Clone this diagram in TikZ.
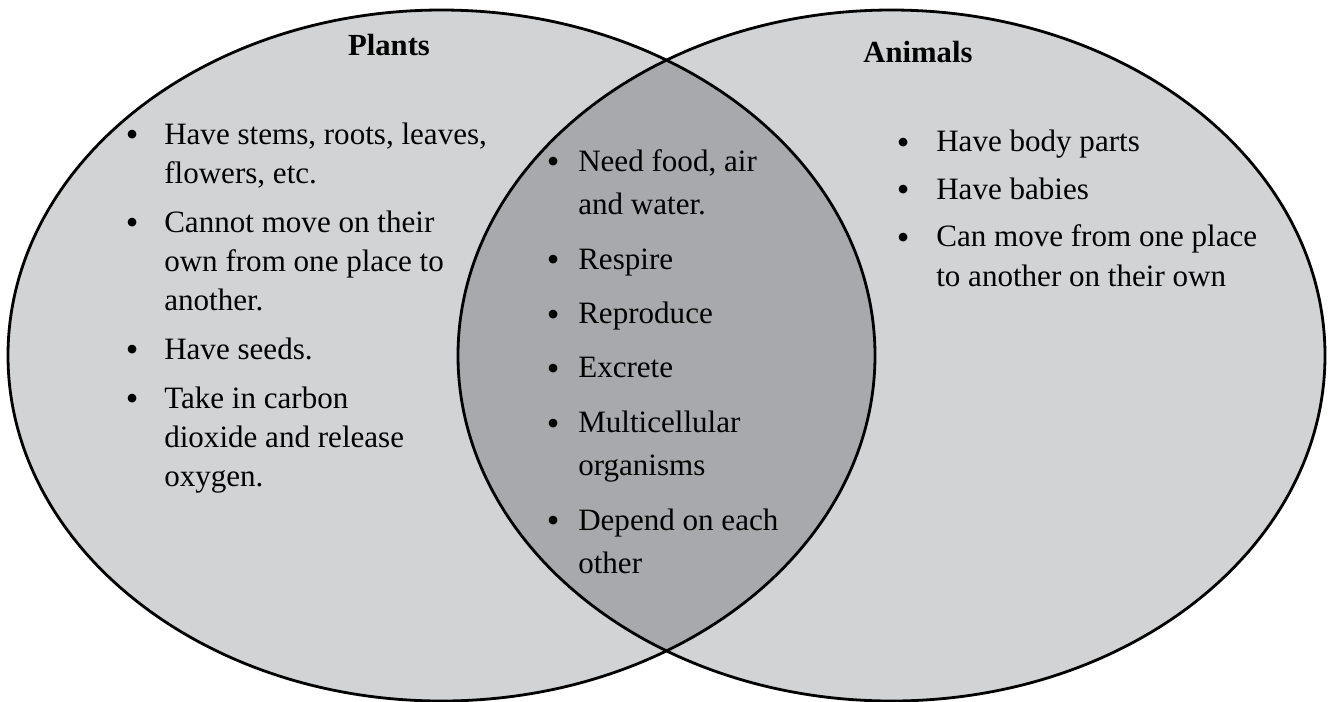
\documentclass[tikz,border=0pt]{standalone}
\usepackage{fontspec}
\setmainfont{Liberation Serif}
\definecolor{lightfill}{HTML}{D1D3D4}
\definecolor{darkfill}{HTML}{A7A9AC}
\newcommand{\bu}[1]{\llap{\makebox[0pt]{\raisebox{-2pt}{\fontsize{27}{27}\selectfont\textbullet}}\hspace{#1}}}
\begin{document}
\begin{tikzpicture}[x=0.75pt,y=-0.75pt,
  listtext/.style={anchor=base west, align=left, inner sep=0pt},
  titletext/.style={anchor=base, inner sep=0pt, font=\fontsize{23}{28}\selectfont\bfseries},
  outline/.style={draw=black, line width=2.1pt}]
\useasboundingbox (0,0) rectangle (1331,701);
\path (441.5,355.5) coordinate (cl) (891.5,355.5) coordinate (cr);
\fill[lightfill] (cl) ellipse [x radius=325.125pt, y radius=259.125pt];
\fill[lightfill] (cr) ellipse [x radius=325.125pt, y radius=259.125pt];
\begin{scope}
  \clip (cl) ellipse [x radius=325.125pt, y radius=259.125pt];
  \fill[darkfill] (cr) ellipse [x radius=325.125pt, y radius=259.125pt];
\end{scope}
\draw[outline] (cl) ellipse [x radius=325.125pt, y radius=259.125pt];
\draw[outline] (cr) ellipse [x radius=325.125pt, y radius=259.125pt];

\node[titletext] (tplants) at (389,55) {Plants};
\node[titletext] (tanimals) at (918,62) {Animals};

% anchor "base" of a multi-line node is the baseline of its last line
\node[listtext, font=\fontsize{23.3}{29.25}\selectfont] (lplants) at (164,486) {%
\bu{24pt}Have stems, roots, leaves,\\
flowers, etc.\\[7.5pt]
\bu{24pt}Cannot move on their\\
own from one place to\\
another.\\[7.5pt]
\bu{24pt}Have seeds.\\[7.5pt]
\bu{24pt}Take in carbon\\
dioxide and release\\
oxygen.};

\node[listtext, font=\fontsize{23.3}{32.6}\selectfont] (lboth) at (578,573.7) {%
\bu{18.75pt}Need food, air\\
and water.\\[8.2pt]
\bu{18.75pt}Respire\\[8.2pt]
\bu{18.75pt}Reproduce\\[8.2pt]
\bu{18.75pt}Excrete\\[8.2pt]
\bu{18.75pt}Multicellular\\
organisms\\[8.2pt]
\bu{18.75pt}Depend on each\\
other};

\node[listtext, font=\fontsize{23.3}{30}\selectfont] (lanimals) at (936,286.5) {%
\bu{24.75pt}Have body parts\\[5.6pt]
\bu{24.75pt}Have babies\\[5.6pt]
\bu{24.75pt}Can move from one place\\
to another on their own};
\end{tikzpicture}
\end{document}
